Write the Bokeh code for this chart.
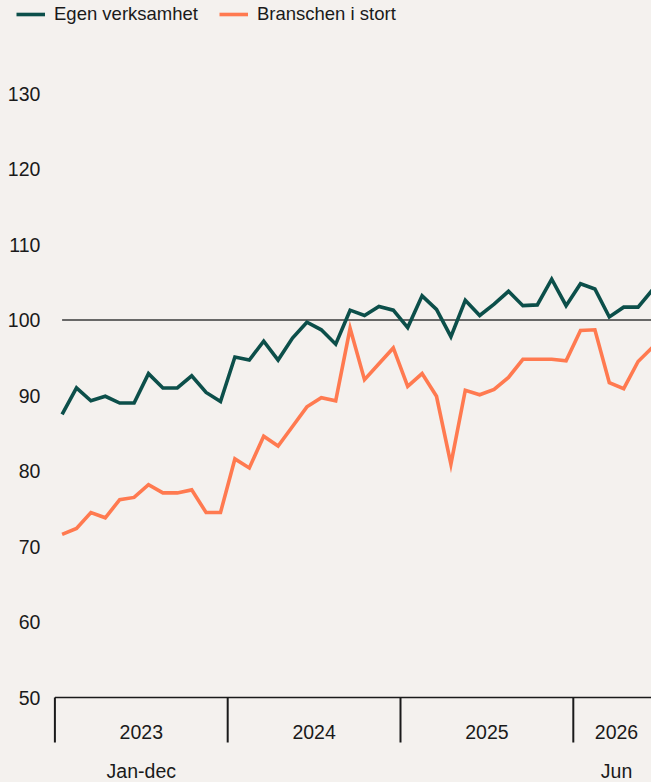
from bokeh.plotting import figure
from bokeh.models import Range1d, Legend, LegendItem, GlobalInlineStyleSheet
from bokeh.core.properties import value
from bokeh.embed import file_html
from bokeh.resources import INLINE

# ---- data ----
years = ["2023", "2024", "2025", "2026"]
months_per_year = [12, 12, 12, 6]
period_labels = ["Jan-dec", "", "", "Jun"]

egen = [87.5, 91.0, 89.3, 89.9, 89.0, 89.0, 92.9, 91.0, 91.0, 92.6, 90.4, 89.2,
        95.1, 94.7, 97.2, 94.7, 97.6, 99.7, 98.7, 96.8, 101.3, 100.6, 101.8, 101.3,
        99.0, 103.2, 101.4, 97.8, 102.6, 100.6, 102.1, 103.8, 101.9, 102.0, 105.4, 101.9,
        104.8, 104.1, 100.4, 101.7, 101.7, 104.0]
bransch = [71.6, 72.4, 74.5, 73.8, 76.2, 76.5, 78.2, 77.1, 77.1, 77.5, 74.5, 74.5,
           81.6, 80.4, 84.6, 83.3, 85.9, 88.5, 89.7, 89.3, 98.9, 92.1, 94.2, 96.3,
           91.2, 92.9, 89.9, 80.9, 90.7, 90.1, 90.8, 92.4, 94.8, 94.8, 94.8, 94.6,
           98.6, 98.7, 91.7, 90.9, 94.5, 96.4]
y_ticks = [50, 60, 70, 80, 90, 100, 110, 120, 130]
y_tick_labels = [str(t) for t in y_ticks]
reference_level = 100
axis_base = 50

series_names = ["Egen verksamhet", "Branschen i stort"]

# ---- styling / layout ----
W, H = 651, 782
BG = "#f4f1ee"
GREEN = "#0c4f4a"
ORANGE = "#ff7a50"
INK = "#1a1a1a"
FONT = "Liberation Sans"
PX_PER_MONTH = 14.4
PX_PER_UNIT = 7.55
AXIS_LEFT_PX = 54.4     # where the first year's section starts
TOP_TICK_PX = 93        # pixel row of the highest tick

months = list(range(len(egen)))

# year segments
starts = []
s = 0
for n in months_per_year:
    starts.append(s)
    s += n
boundaries = [st - 0.5 for st in starts]
centers = [st + n / 2 - 0.5 for st, n in zip(starts, months_per_year)]

x0 = boundaries[0] - AXIS_LEFT_PX / PX_PER_MONTH
x1 = boundaries[0] + (W - AXIS_LEFT_PX) / PX_PER_MONTH
y_top = y_ticks[-1] + TOP_TICK_PX / PX_PER_UNIT
y_bot = y_top - H / PX_PER_UNIT

p = figure(width=W, height=H,
           x_range=Range1d(x0, x1), y_range=Range1d(y_bot, y_top),
           x_axis_location=None, y_axis_location=None,
           toolbar_location=None, output_backend="svg",
           min_border_left=0, min_border_right=0,
           min_border_top=0, min_border_bottom=0,
           background_fill_color=BG, border_fill_color=BG,
           outline_line_color=None)
p.stylesheets = [GlobalInlineStyleSheet(css="body{background-color:%s;}" % BG)]
p.grid.visible = False

# y tick labels (right-aligned, left of the axis)
p.text(x=[boundaries[0] - 14.5 / PX_PER_MONTH] * len(y_ticks), y=y_ticks, text=y_tick_labels,
       text_align="right", text_baseline="middle", text_font=value(FONT),
       text_font_size="19.5px", text_color=INK)

# reference line at 100
p.segment(x0=[months[0]], x1=[x1], y0=[reference_level], y1=[reference_level],
          line_color="#3a3a3a", line_width=1.3)

# base axis line and year dividers
p.segment(x0=[boundaries[0]], x1=[x1], y0=[axis_base], y1=[axis_base],
          line_color=INK, line_width=1.6)
div_bottom = axis_base - 45 / PX_PER_UNIT
p.segment(x0=boundaries, x1=boundaries, y0=[axis_base] * len(boundaries),
          y1=[div_bottom] * len(boundaries), line_color=INK, line_width=2)

p.text(x=centers, y=[axis_base - 34 / PX_PER_UNIT] * len(centers), text=years,
       text_align="center", text_baseline="middle", text_font=value(FONT),
       text_font_size="19.5px", text_color=INK)
p.text(x=centers, y=[axis_base - 73 / PX_PER_UNIT] * len(centers), text=period_labels,
       text_align="center", text_baseline="middle", text_font=value(FONT),
       text_font_size="19.5px", text_color=INK)

r_b = p.line(months, bransch, line_color=ORANGE, line_width=3.6, line_join="miter")
r_e = p.line(months, egen, line_color=GREEN, line_width=3.6, line_join="miter")

legend = Legend(items=[LegendItem(label=series_names[0], renderers=[r_e]),
                       LegendItem(label=series_names[1], renderers=[r_b])],
                orientation="horizontal", location=(16, 757),
                padding=0, margin=0, spacing=21, label_standoff=9,
                glyph_width=29, glyph_height=18, label_height=18,
                label_text_font=FONT, label_text_font_size="18.5px",
                label_text_color=INK, background_fill_alpha=0,
                border_line_alpha=0)
p.add_layout(legend)

open("out.html", "w").write(file_html(p, INLINE))
